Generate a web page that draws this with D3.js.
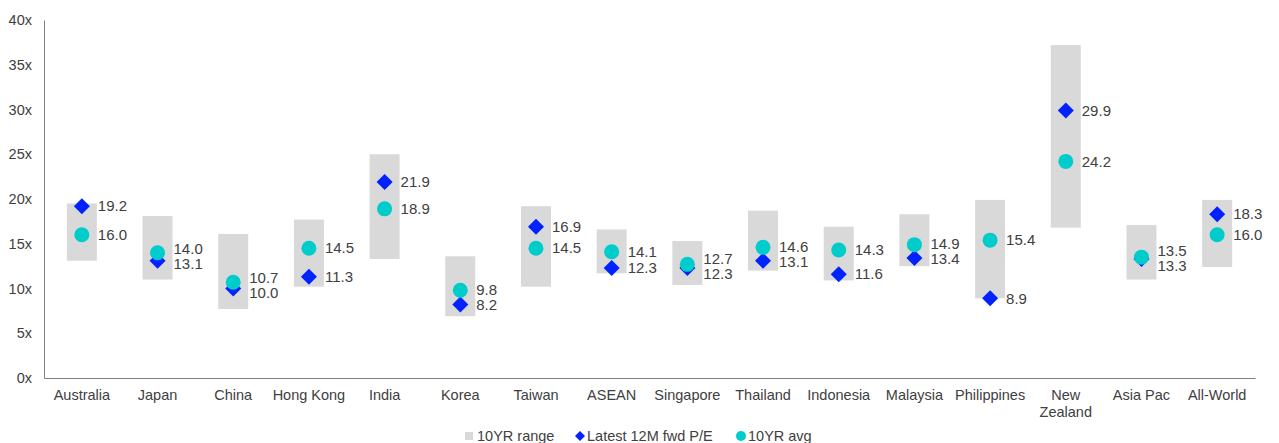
<!DOCTYPE html>
<html>
<head>
<meta charset="utf-8">
<script src="https://cdn.jsdelivr.net/npm/d3@7"></script>
<style>
  body { margin: 0; background: #fff; }
  text { font-family: "Liberation Sans", Arial, sans-serif; fill: #404040; }
</style>
</head>
<body>
<svg id="chart" width="1279" height="443"></svg>
<script>
var categories = ["Australia", "Japan", "China", "Hong Kong", "India", "Korea", "Taiwan", "ASEAN",
	"Singapore", "Thailand", "Indonesia", "Malaysia", "Philippines", "New Zealand", "Asia Pac", "All-World"];
var range_low  = [13.1, 11.0, 7.7, 10.2, 13.3, 6.9, 10.2, 11.7, 10.4, 12.0, 10.9, 12.5, 8.9, 16.8, 11.0, 12.4];
var range_high = [19.5, 18.1, 16.1, 17.7, 25.0, 13.6, 19.2, 16.6, 15.3, 18.7, 16.9, 18.3, 19.9, 37.2, 17.1, 19.9];
var latest_pe  = [19.2, 13.1, 10.0, 11.3, 21.9, 8.2, 16.9, 12.3, 12.3, 13.1, 11.6, 13.4, 8.9, 29.9, 13.3, 18.3];
var avg_10yr   = [16.0, 14.0, 10.7, 14.5, 18.9, 9.8, 14.5, 14.1, 12.7, 14.6, 14.3, 14.9, 15.4, 24.2, 13.5, 16.0];
var y_ticks = [0, 5, 10, 15, 20, 25, 30, 35, 40];

function chart() {
	var data = categories.map((c, i) => ({cat: c, lo: range_low[i], hi: range_high[i], pe: latest_pe[i], avg: avg_10yr[i]}));

	var svg = d3.select("#chart"),
		margin = {top: 20, left: 44, bottom: 65, right: 24},
		width = +svg.attr("width"),
		height = +svg.attr("height");

	var x = d3.scaleBand()
		.domain(categories)
		.range([margin.left, width - margin.right])
		.padding(0);

	var y = d3.scaleLinear()
		.domain([0, 40])
		.range([height - margin.bottom, margin.top]);

	var barW = 30;

	// y axis
	var yAxis = svg.append("g")
		.attr("class", "y-axis")
		.attr("transform", `translate(${margin.left},0)`)
		.call(d3.axisLeft(y).tickValues(y_ticks).tickSize(0).tickPadding(12).tickFormat(d => d + "x"));
	yAxis.select(".domain").attr("stroke", "#7f7f7f");
	yAxis.selectAll("text").style("font-size", "14.5px").attr("fill", "#404040");

	// x axis
	var xAxis = svg.append("g")
		.attr("class", "x-axis")
		.attr("transform", `translate(0,${y(0)})`)
		.call(d3.axisBottom(x).tickSize(0).tickPadding(12).tickSizeOuter(0));
	xAxis.select(".domain").attr("stroke", "#7f7f7f");
	xAxis.selectAll("text")
		.style("font-size", "14.5px")
		.attr("fill", "#404040")
		.each(function(d) {
			if (d === "New Zealand") {
				var t = d3.select(this);
				t.text(null);
				t.append("tspan").attr("x", 0).attr("dy", "0.71em").text("New");
				t.append("tspan").attr("x", 0).attr("dy", "1.15em").text("Zealand");
			}
		});

	// range bars
	svg.selectAll(".bar")
		.data(data)
		.enter().append("rect")
		.attr("class", "bar")
		.attr("fill", "#d9d9d9")
		.attr("x", d => x(d.cat) + x.bandwidth() / 2 - barW / 2)
		.attr("width", barW)
		.attr("y", d => y(d.hi))
		.attr("height", d => y(d.lo) - y(d.hi));

	// latest P/E diamonds
	svg.selectAll(".pe")
		.data(data)
		.enter().append("path")
		.attr("class", "pe")
		.attr("fill", "#0022ff")
		.attr("d", "M0,-8L8,0L0,8L-8,0Z")
		.attr("transform", d => `translate(${x(d.cat) + x.bandwidth() / 2},${y(d.pe)})`);

	// 10yr avg circles
	svg.selectAll(".avg")
		.data(data)
		.enter().append("circle")
		.attr("class", "avg")
		.attr("fill", "#00cccc")
		.attr("cx", d => x(d.cat) + x.bandwidth() / 2)
		.attr("cy", d => y(d.avg))
		.attr("r", 7.5);

	// labels, pushed apart when they collide
	var minGap = 15;
	data.forEach(d => {
		var yp = y(d.pe), ya = y(d.avg);
		var diff = Math.abs(yp - ya);
		if (diff < minGap) {
			var mid = (yp + ya) / 2;
			if (yp >= ya) { yp = mid + minGap / 2; ya = mid - minGap / 2; }
			else { yp = mid - minGap / 2; ya = mid + minGap / 2; }
		}
		var lx = x(d.cat) + x.bandwidth() / 2 + 16;
		[[d.pe, yp], [d.avg, ya]].forEach(p => {
			svg.append("text")
				.attr("class", "labels")
				.attr("x", lx)
				.attr("y", p[1])
				.attr("dy", "0.35em")
				.style("font-size", "15px")
				.text(p[0].toFixed(1));
		});
	});

	// legend
	var legend = svg.append("g").attr("class", "legend").attr("transform", "translate(0,436)");
	legend.append("rect").attr("x", 465).attr("y", -4).attr("width", 8).attr("height", 8).attr("fill", "#d9d9d9");
	legend.append("text").attr("x", 477).attr("dy", "0.35em").style("font-size", "14.5px").text("10YR range");
	legend.append("path").attr("d", "M0,-5L5,0L0,5L-5,0Z").attr("fill", "#0022ff").attr("transform", "translate(580,0)");
	legend.append("text").attr("x", 587).attr("dy", "0.35em").style("font-size", "14.5px").text("Latest 12M fwd P/E");
	legend.append("circle").attr("cx", 741).attr("cy", 0).attr("r", 5).attr("fill", "#00cccc");
	legend.append("text").attr("x", 748).attr("dy", "0.35em").style("font-size", "14.5px").text("10YR avg");
}
chart();
</script>
</body>
</html>
